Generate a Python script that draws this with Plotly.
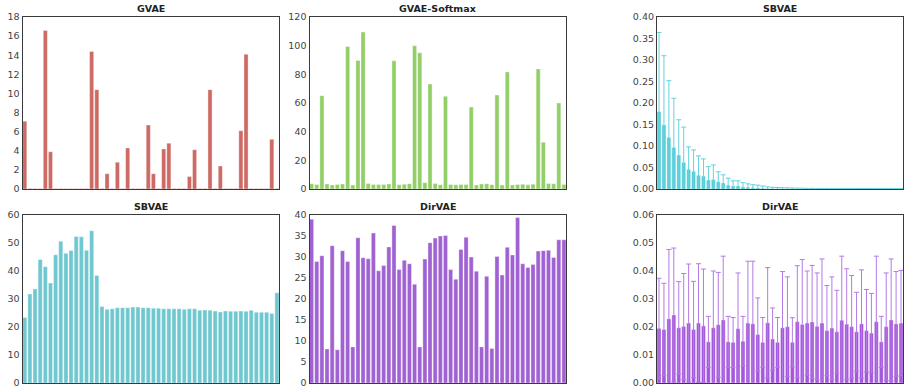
import plotly.graph_objects as go

dims = list(range(50))

gvae = [7.1, 0.06, 0.06, 0.06, 16.6, 3.9, 0.06, 0.06, 0.06, 0.06,
        0.06, 0.06, 0.06, 14.4, 10.4, 0.06, 1.6, 0.06, 2.8, 0.06,
        4.3, 0.06, 0.06, 0.06, 6.7, 1.6, 0.06, 4.2, 4.8, 0.06,
        0.06, 0.06, 1.3, 4.1, 0.06, 0.06, 10.4, 0.06, 2.4, 0.06,
        0.06, 0.06, 6.1, 14.1, 0.06, 0.06, 0.06, 0.06, 5.2, 0.06]

gvae_softmax = [3.7, 3.2, 65.1, 3.5, 2.8, 3.1, 3.5, 99.5, 2.8, 89.7,
                109.5, 3.8, 3.1, 3.1, 3.1, 3.5, 89.4, 3.0, 3.3, 3.7,
                99.9, 95.0, 4.4, 73.3, 3.8, 3.0, 64.7, 3.2, 3.0, 3.1,
                3.1, 57.2, 2.8, 3.5, 3.7, 3.0, 65.6, 2.8, 81.7, 2.8,
                3.1, 3.3, 2.9, 3.4, 83.8, 32.7, 3.8, 3.7, 60.0, 3.2]

sbvae_mean = [0.180, 0.149, 0.120, 0.0965, 0.079, 0.062, 0.0455, 0.041, 0.032, 0.030,
              0.021, 0.022, 0.017, 0.014, 0.009, 0.007, 0.007, 0.005, 0.004, 0.003,
              0.0025, 0.002, 0.0015, 0.0012, 0.001, 0.0008, 0.0007, 0.0006, 0.0005, 0.0005,
              0.0004, 0.0004, 0.0003, 0.0003, 0.0003, 0.0003, 0.0003, 0.0003, 0.0003, 0.0003,
              0.0003, 0.0003, 0.0003, 0.0003, 0.0003, 0.0003, 0.0003, 0.0003, 0.0003, 0.0003]
sbvae_err = [0.184, 0.161, 0.132, 0.1145, 0.082, 0.082, 0.0525, 0.050, 0.045, 0.040,
             0.031, 0.034, 0.023, 0.019, 0.016, 0.012, 0.012, 0.010, 0.008, 0.007,
             0.0065, 0.005, 0.0035, 0.0028, 0.0025, 0.0022, 0.002, 0.0018, 0.0015, 0.0015,
             0.0012, 0.0012, 0.001, 0.001, 0.001, 0.001, 0.001, 0.001, 0.001, 0.001,
             0.001, 0.001, 0.001, 0.001, 0.001, 0.001, 0.001, 0.001, 0.001, 0.001]

sbvae_active = [23.4, 31.8, 33.6, 44.1, 41.5, 35.7, 45.8, 50.6, 46.3, 47.3,
                52.3, 52.2, 47.4, 54.4, 38.4, 27.3, 26.3, 26.5, 26.9, 26.9,
                26.9, 27.1, 27.1, 26.9, 26.9, 26.7, 26.7, 26.5, 26.5, 26.5,
                26.5, 26.3, 26.5, 26.5, 26.0, 26.1, 26.0, 25.7, 25.4, 25.7,
                25.6, 25.6, 25.7, 25.6, 26.0, 25.3, 25.3, 25.3, 24.8, 32.2]

dirvae_active = [39.0, 28.9, 30.3, 8.1, 32.7, 7.9, 31.5, 28.9, 8.6, 34.6,
                 29.8, 29.6, 35.7, 26.7, 28.0, 32.4, 37.5, 27.0, 29.2, 28.4,
                 23.5, 8.6, 29.5, 33.4, 34.5, 35.0, 35.1, 27.0, 24.7, 31.8,
                 34.7, 30.0, 26.6, 8.6, 25.4, 8.2, 30.1, 25.7, 32.3, 30.5,
                 39.4, 28.4, 27.5, 28.2, 31.4, 31.5, 31.6, 29.9, 34.1, 34.1]

dirvae_mean = [0.0195, 0.0191, 0.0229, 0.0243, 0.0197, 0.0202, 0.0214, 0.0191, 0.0214, 0.0204,
               0.0147, 0.0197, 0.0208, 0.0225, 0.0147, 0.0145, 0.0194, 0.0149, 0.0214, 0.0211,
               0.0173, 0.0145, 0.0215, 0.0157, 0.0145, 0.0197, 0.0201, 0.0145, 0.0219, 0.0209,
               0.0214, 0.0218, 0.0202, 0.0214, 0.0187, 0.0196, 0.0183, 0.0224, 0.0210, 0.0201,
               0.0183, 0.0211, 0.0187, 0.0178, 0.0219, 0.0147, 0.0201, 0.0225, 0.0211, 0.0214]
dirvae_cap = [0.0374, 0.0356, 0.0477, 0.0482, 0.0362, 0.0391, 0.0425, 0.0363, 0.0426, 0.0407,
              0.0238, 0.0400, 0.0395, 0.0453, 0.0238, 0.0234, 0.0393, 0.0238, 0.0435, 0.0435,
              0.0304, 0.0234, 0.0412, 0.0268, 0.0234, 0.0398, 0.0379, 0.0233, 0.0419, 0.0441,
              0.0400, 0.0420, 0.0393, 0.0443, 0.0348, 0.0379, 0.0331, 0.0453, 0.0408, 0.0384,
              0.0324, 0.0404, 0.0334, 0.0320, 0.0453, 0.0238, 0.0393, 0.0443, 0.0398, 0.0402]
dirvae_err = [round(c - m, 4) for c, m in zip(dirvae_cap, dirvae_mean)]

panels = [
    # title, values, errors, color, err color, yrange, dtick, tickformat, xdomain, ydomain
    ("GVAE", gvae, None, "#cd6a64", None, [0, 18], 2, None, [0.0251, 0.3086], [0.5141, 0.9563]),
    ("GVAE-Softmax", gvae_softmax, None, "#93cf68", None, [0, 120], 20, None, [0.3424, 0.6261], [0.5141, 0.9563]),
    ("SBVAE", sbvae_mean, sbvae_err, "#55cdd9", "#66d2dc", [0, 0.40], 0.05, ".2f", [0.7268, 0.9989], [0.5141, 0.9563]),
    ("SBVAE", sbvae_active, None, "#6fc8d0", None, [0, 60], 10, None, [0.0251, 0.3086], [0.0154, 0.4473]),
    ("DirVAE", dirvae_active, None, "#a062d2", None, [0, 40], 5, None, [0.3424, 0.6261], [0.0154, 0.4473]),
    ("DirVAE", dirvae_mean, dirvae_err, "#a456dc", "#b47ae4", [0, 0.06], 0.01, ".2f", [0.7268, 0.9989], [0.0154, 0.4473]),
]

fig = go.Figure()
annotations = []
for k, (title, vals, errs, color, ecolor, yr, dt, fmt, xd, yd) in enumerate(panels, start=1):
    sfx = "" if k == 1 else str(k)
    tr = dict(x=dims, y=vals, width=0.8,
              marker=dict(color=color, line=dict(color="rgba(255,255,255,0.45)", width=0.8)),
              xaxis="x" + sfx, yaxis="y" + sfx, showlegend=False, hoverinfo="skip")
    if errs is not None:
        tr["error_y"] = dict(type="data", array=errs, symmetric=True, color=ecolor,
                             thickness=1, width=2.5)
    fig.add_trace(go.Bar(**tr))
    fig.layout["xaxis" + sfx] = dict(domain=xd, range=[-0.4, 49.4], anchor="y" + sfx,
                                     showticklabels=False, ticks="", showgrid=False, zeroline=False,
                                     showline=True, linecolor="#3a3a3a", linewidth=1.3, mirror=True)
    fig.layout["yaxis" + sfx] = dict(domain=yd, range=yr, dtick=dt, tick0=0, anchor="x" + sfx,
                                     tickformat=fmt, ticks="", showgrid=False, zeroline=False,
                                     showline=True, linecolor="#3a3a3a", linewidth=1.3, mirror=True,
                                     tickfont=dict(family="DejaVu Sans", size=9.5, color="#444444"),
                                     ticklabeloverflow="allow", automargin=False)
    annotations.append(dict(text="<b>" + title + "</b>", xref="paper", yref="paper",
                            x=(xd[0] + xd[1]) / 2, y=yd[1], yshift=1, xanchor="center", yanchor="bottom",
                            showarrow=False,
                            font=dict(family="DejaVu Sans", size=9.5, color="#222222")))

fig.update_layout(width=904, height=389, margin=dict(l=0, r=0, t=0, b=0),
                  paper_bgcolor="white", plot_bgcolor="white", annotations=annotations,
                  bargap=0.2)
fig.write_html("out.html", config={"displayModeBar": False},
               post_script="document.body.style.margin='0px';document.body.style.overflow='hidden';")
